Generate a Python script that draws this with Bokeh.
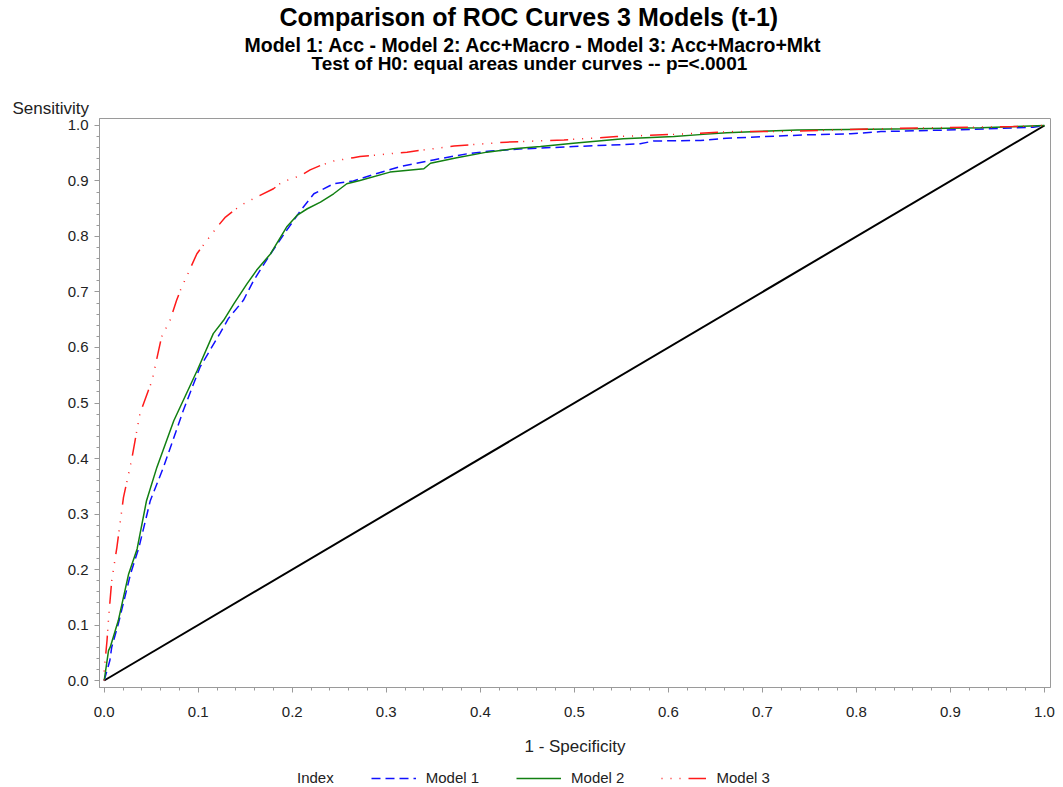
from bokeh.plotting import figure
from bokeh.layouts import column
from bokeh.models import (Title, Legend, LegendItem, Range1d, SingleIntervalTicker,
                          PrintfTickFormatter)
from bokeh.embed import file_html
from bokeh.resources import INLINE

# ---------------- data ----------------
m1_fpr = [0.0, 0.006, 0.008, 0.015, 0.028, 0.037, 0.049, 0.063, 0.084, 0.102, 0.123, 0.132,
          0.148, 0.159, 0.177, 0.194, 0.209, 0.223, 0.244, 0.265, 0.287, 0.315, 0.350, 0.386,
          0.411, 0.446, 0.499, 0.570, 0.584, 0.634, 0.662, 0.744, 0.794, 0.826, 0.925, 0.988, 1.0]
m1_tpr = [0.0, 0.036, 0.060, 0.102, 0.192, 0.240, 0.324, 0.384, 0.486, 0.565, 0.625, 0.652,
          0.685, 0.721, 0.769, 0.811, 0.847, 0.877, 0.895, 0.900, 0.912, 0.926, 0.938, 0.949,
          0.954, 0.958, 0.962, 0.967, 0.972, 0.973, 0.977, 0.983, 0.985, 0.989, 0.993, 0.997, 1.0]

m2_fpr = [0.0, 0.0046, 0.0064, 0.015, 0.026, 0.035, 0.045, 0.056, 0.074, 0.099, 0.116, 0.127,
          0.138, 0.152, 0.162, 0.177, 0.194, 0.205, 0.216, 0.230, 0.244, 0.258, 0.272, 0.304,
          0.340, 0.347, 0.375, 0.407, 0.435, 0.464, 0.499, 0.552, 0.606, 0.637, 0.662, 0.737,
          0.790, 0.861, 0.932, 1.0]
m2_tpr = [0.0, 0.054, 0.060, 0.108, 0.192, 0.237, 0.324, 0.384, 0.468, 0.559, 0.625, 0.649,
          0.679, 0.715, 0.739, 0.769, 0.817, 0.838, 0.850, 0.862, 0.877, 0.895, 0.901, 0.916,
          0.922, 0.932, 0.942, 0.952, 0.958, 0.962, 0.968, 0.976, 0.980, 0.984, 0.987, 0.992,
          0.993, 0.994, 0.996, 1.0]

m3_fpr = [0.0, 0.0, 0.001, 0.003, 0.0046, 0.008, 0.0135, 0.0205, 0.029, 0.038, 0.051, 0.061,
          0.070, 0.077, 0.081, 0.0986, 0.120, 0.129, 0.145, 0.162, 0.180, 0.189, 0.209, 0.219,
          0.230, 0.244, 0.265, 0.272, 0.322, 0.372, 0.428, 0.489, 0.545, 0.606, 0.669, 0.719,
          0.843, 0.967, 1.0]
m3_tpr = [0.0, 0.024, 0.036, 0.072, 0.111, 0.180, 0.240, 0.330, 0.396, 0.481, 0.541, 0.619,
          0.649, 0.685, 0.703, 0.769, 0.817, 0.835, 0.856, 0.871, 0.886, 0.898, 0.910, 0.920,
          0.928, 0.936, 0.942, 0.944, 0.952, 0.963, 0.970, 0.974, 0.980, 0.984, 0.989, 0.989,
          0.995, 0.998, 1.0]

diag_x = [0.0, 1.0]
diag_y = [0.0, 1.0]

series_names = ["Model 1", "Model 2", "Model 3"]
legend_title = "Index"
x_label = "1 - Specificity"
y_label = "Sensitivity"
title_main = "Comparison of ROC Curves 3 Models (t-1)"
title_sub1 = "Model 1: Acc - Model 2: Acc+Macro - Model 3: Acc+Macro+Mkt"
title_sub2 = "Test of H0: equal areas under curves -- p=<.0001"

FONT = "Liberation Sans"
TXT = "#222222"
AXC = "#9a9a9a"
C1, C2, C3 = "#1010ff", "#128012", "#ff1a1a"
D1, D3 = "9 5", "1 8 1 8 1 8 18 5"

p = figure(width=1063, height=762, output_backend="svg", toolbar_location=None, title=None,
           x_range=Range1d(-0.005, 1.0064), y_range=Range1d(-0.0126, 1.0126),
           min_border_left=99, min_border_right=13, min_border_top=118, min_border_bottom=75,
           background_fill_color="white", border_fill_color="white")
p.xgrid.visible = False
p.ygrid.visible = False
p.outline_line_color = AXC

for ax in (p.xaxis[0], p.yaxis[0]):
    ax.ticker = SingleIntervalTicker(interval=0.1, num_minor_ticks=5)
    ax.formatter = PrintfTickFormatter(format="%.1f")
    ax.axis_line_color = AXC
    ax.major_tick_line_color = AXC
    ax.minor_tick_line_color = AXC
    ax.major_tick_out = 5
    ax.major_tick_in = 0
    ax.minor_tick_out = 3
    ax.minor_tick_in = 0
    ax.major_label_text_font = FONT
    ax.major_label_text_font_size = "15px"
    ax.major_label_text_color = TXT

p.xaxis.major_label_standoff = 14
p.xaxis.axis_label = x_label
p.xaxis.axis_label_text_font = FONT
p.xaxis.axis_label_text_font_size = "17px"
p.xaxis.axis_label_text_font_style = "normal"
p.xaxis.axis_label_text_color = TXT
p.xaxis.axis_label_standoff = 17
p.yaxis.major_label_standoff = 6

# curves
p.line(diag_x, diag_y, line_color="black", line_width=2)
p.line(m1_fpr, m1_tpr, line_color=C1, line_width=1.5, line_dash=D1)
p.line(m2_fpr, m2_tpr, line_color=C2, line_width=1.5)
p.line(m3_fpr, m3_tpr, line_color=C3, line_width=1.5, line_dash=D3)

# titles (first added = nearest to the frame)
t_sens = Title(text=y_label, align="left", offset=-87, text_font=FONT, text_font_size="17px",
               text_font_style="normal", text_color=TXT, standoff=2, vertical_align="bottom")
t_gap = Title(text=" ", text_font=FONT, text_font_size="14px", standoff=6)
t_s2 = Title(text=title_sub2, align="left", offset=212, text_font=FONT, text_font_size="19px",
             text_font_style="bold", text_color="black", standoff=-5, vertical_align="bottom")
t_s1 = Title(text=title_sub1, align="left", offset=145, text_font=FONT, text_font_size="19.5px",
             text_font_style="bold", text_color="black", standoff=-5, vertical_align="bottom")
t_main = Title(text=title_main, align="left", offset=180, text_font=FONT, text_font_size="25px",
               text_font_style="bold", text_color="black", standoff=4, vertical_align="top")
for t in (t_sens, t_gap, t_s2, t_s1, t_main):
    p.add_layout(t, "above")

# legend strip below the chart (its frame is aligned with the chart's frame)
p2 = figure(width=1063, height=25, output_backend="svg", toolbar_location=None, title=None,
            x_range=Range1d(0, 1), y_range=Range1d(0, 1), min_border=0,
            x_axis_location=None, y_axis_location=None,
            background_fill_color="white", border_fill_color="white")
p2.outline_line_color = None
p2.xgrid.visible = False
p2.ygrid.visible = False
off_x = [0.0, 1.0]
off_y = [-5.0, -5.0]   # legend proxies, kept outside the strip's range
g0 = p2.line(off_x, off_y, line_alpha=0)
g1 = p2.line(off_x, off_y, line_color=C1, line_width=1.5, line_dash=D1)
g2 = p2.line(off_x, off_y, line_color=C2, line_width=1.5)
g3 = p2.line(off_x, off_y, line_color=C3, line_width=1.5, line_dash=D3)

legend = Legend(items=[LegendItem(label=legend_title, renderers=[g0]),
                       LegendItem(label=series_names[0], renderers=[g1]),
                       LegendItem(label=series_names[1], renderers=[g2]),
                       LegendItem(label=series_names[2], renderers=[g3])],
                orientation="horizontal", location=(143, 1), glyph_width=45, glyph_height=16,
                label_standoff=10, spacing=37, padding=0, margin=0,
                border_line_alpha=0, background_fill_alpha=0,
                label_text_font=FONT, label_text_font_size="15px", label_text_color=TXT)
p2.add_layout(legend)

layout = column(p, p2, spacing=0)
open("out.html", "w").write(file_html(layout, INLINE))
